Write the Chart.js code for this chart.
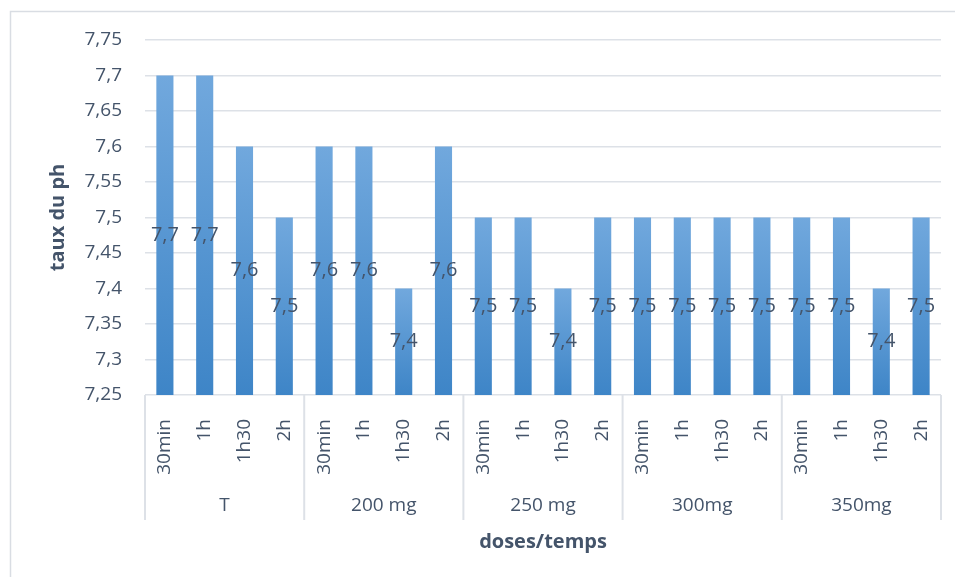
<!DOCTYPE html>
<html lang="fr">
<head>
<meta charset="utf-8">
<title>taux du ph</title>
<script src="https://cdn.jsdelivr.net/npm/chart.js@4.4.1/dist/chart.umd.min.js"></script>
<style>
  html, body { margin: 0; padding: 0; background: #ffffff; }
  #wrap { position: relative; width: 955px; height: 577px; }
</style>
</head>
<body>
<div id="wrap"><canvas id="c" width="955" height="577"></canvas></div>
<script>
// Doses (outer category level) and sampling times (inner level)
const groups = ['T', '200 mg', '250 mg', '300mg', '350mg'];
const times = ['30min', '1h', '1h30', '2h'];

// pH measured for each dose at each time
const phT     = [7.7, 7.7, 7.6, 7.5];
const ph200   = [7.6, 7.6, 7.4, 7.6];
const ph250   = [7.5, 7.5, 7.4, 7.5];
const ph300   = [7.5, 7.5, 7.5, 7.5];
const ph350   = [7.5, 7.5, 7.4, 7.5];

// Value axis range
const yMin = 7.25;
const yMax = 7.75;
const yStep = 0.05;

const labels = groups.flatMap(() => times);
const values = [].concat(phT, ph200, ph250, ph300, ph350);

const TEXT = '#44546a';
const GRID = '#dde1e7';
const FONT = '"Open Sans", "DejaVu Sans", sans-serif';

// Decimal comma, trailing zeros dropped
const fmt = v => String(Number(v.toFixed(2))).replace('.', ',');

// Light-to-dark vertical gradient on each bar
function barFill(ctx) {
  const chart = ctx.chart;
  const ys = chart.scales && chart.scales.y;
  if (!ys || ctx.type !== 'data') return '#5b9bd5';
  const top = ys.getPixelForValue(ctx.raw);
  const bot = ys.getPixelForValue(ys.min);
  if (!isFinite(top) || !isFinite(bot) || top === bot) return '#5b9bd5';
  const g = chart.ctx.createLinearGradient(0, top, 0, bot);
  g.addColorStop(0, '#71a8dd');
  g.addColorStop(1, '#3e85c7');
  return g;
}

// Outer frame of the chart
const framePlugin = {
  id: 'frame',
  beforeDraw(chart) {
    const c = chart.ctx;
    c.save();
    c.strokeStyle = '#d9dde3';
    c.lineWidth = 1.5;
    c.strokeRect(10.5, 11.5, chart.width + 20, chart.height + 20);
    c.restore();
  }
};

// Vertical separators between dose groups, through both label rows,
// and the value printed in the middle of the visible part of each bar
const overlayPlugin = {
  id: 'overlay',
  afterDraw(chart) {
    const xs = chart.scales.x;
    const ys = chart.scales.y;
    const gs = chart.scales.groups;
    const area = chart.chartArea;
    const c = chart.ctx;
    const n = times.length;
    c.save();
    c.strokeStyle = GRID;
    c.lineWidth = 2;
    for (let g = 0; g <= groups.length; g++) {
      let x;
      if (g === 0) x = area.left;
      else if (g === groups.length) x = area.right;
      else x = (xs.getPixelForValue(g * n - 1) + xs.getPixelForValue(g * n)) / 2;
      c.beginPath();
      c.moveTo(x, area.bottom);
      c.lineTo(x, gs.top + 35);
      c.stroke();
    }

    const data = chart.data.datasets[0].data;
    const base = ys.getPixelForValue(ys.min);
    c.font = '20px ' + FONT;
    c.fillStyle = TEXT;
    c.textAlign = 'center';
    c.textBaseline = 'middle';
    data.forEach((v, i) => {
      const x = xs.getPixelForValue(i);
      const y = (ys.getPixelForValue(v) + base) / 2;
      c.fillText(fmt(v), x, y);
    });
    c.restore();
  }
};

new Chart(document.getElementById('c'), {
  type: 'bar',
  data: {
    labels: labels,
    datasets: [{
      label: 'taux du ph',
      data: values,
      backgroundColor: barFill,
      borderWidth: 0,
      barPercentage: 1,
      categoryPercentage: 0.43
    }]
  },
  options: {
    responsive: false,
    animation: false,
    events: [],
    layout: { padding: { left: 20, right: 14, top: 40, bottom: 0 } },
    plugins: {
      legend: { display: false },
      tooltip: { enabled: false },
      title: { display: false }
    },
    scales: {
      x: {
        type: 'category',
        position: 'bottom',
        weight: 0,
        grid: { display: false },
        border: { display: false },
        ticks: {
          color: TEXT,
          font: { family: FONT, size: 19 },
          minRotation: 90,
          maxRotation: 90,
          autoSkip: false,
          padding: 16
        },
        afterFit(s) { s.height = 90; s.paddingLeft = 0; s.paddingRight = 0; }
      },
      groups: {
        type: 'category',
        position: 'bottom',
        weight: 1,
        labels: groups,
        offset: true,
        grid: { display: false },
        border: { display: false },
        ticks: {
          color: TEXT,
          font: { family: FONT, size: 19 },
          maxRotation: 0,
          autoSkip: false,
          padding: 1
        },
        title: {
          display: true,
          text: 'doses/temps',
          color: TEXT,
          font: { family: FONT, size: 20, weight: 'bold' },
          padding: { top: 0, bottom: 23 }
        },
        afterFit(s) { s.height = 92; s.paddingLeft = 0; s.paddingRight = 0; }
      },
      y: {
        min: yMin,
        max: yMax,
        grid: { color: GRID, lineWidth: 1.5, drawTicks: false },
        border: { display: false },
        ticks: {
          stepSize: yStep,
          color: TEXT,
          font: { family: FONT, size: 19 },
          padding: 23,
          callback: v => fmt(v)
        },
        title: {
          display: true,
          text: 'taux du ph',
          color: TEXT,
          font: { family: FONT, size: 20, weight: 'bold' },
          padding: { top: 26, bottom: 0 }
        },
        afterFit(s) { s.width = 125; }
      }
    }
  },
  plugins: [framePlugin, overlayPlugin]
});
</script>
</body>
</html>
